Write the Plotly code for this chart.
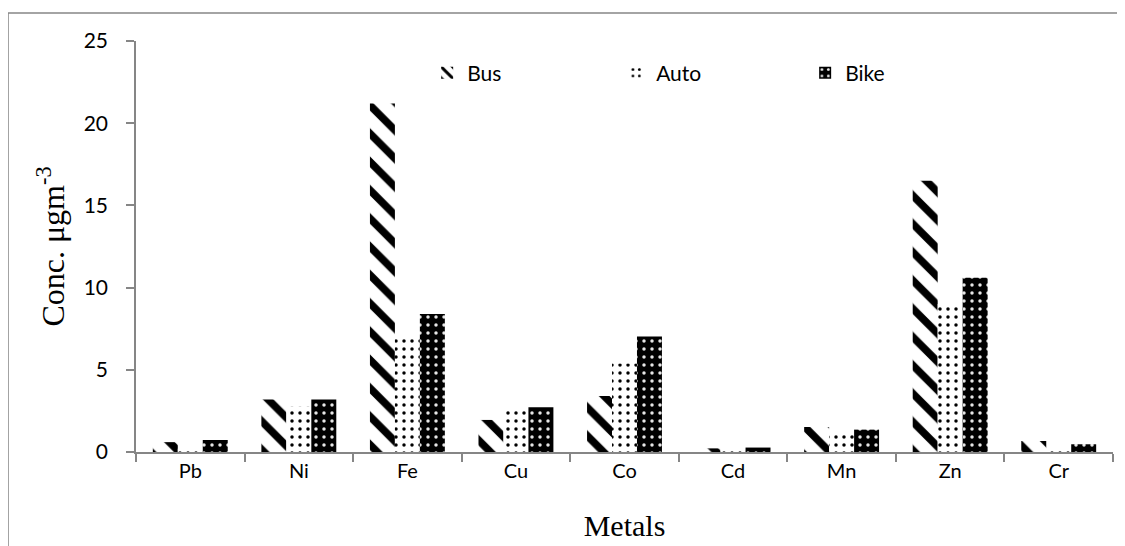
import plotly.graph_objects as go

metals = ["Pb", "Ni", "Fe", "Cu", "Co", "Cd", "Mn", "Zn", "Cr"]
bus = [0.6, 3.2, 21.2, 1.95, 3.4, 0.22, 1.52, 16.5, 0.67]
auto = [0.2, 2.75, 7.0, 2.6, 5.38, 0.15, 1.1, 9.0, 0.15]
bike = [0.73, 3.2, 8.4, 2.72, 7.02, 0.27, 1.36, 10.6, 0.47]
y_ticks = [0, 5, 10, 15, 20, 25]

fig = go.Figure()
fig.add_bar(name="Bus", x=metals, y=bus,
            marker=dict(color="white", line=dict(width=0),
                        pattern=dict(shape="\\", fgcolor="black", bgcolor="white",
                                     size=20, solidity=0.38, fillmode="replace")))
fig.add_bar(name="Auto", x=metals, y=auto,
            marker=dict(color="white", line=dict(width=0),
                        pattern=dict(shape=".", fgcolor="black", bgcolor="white",
                                     size=8, solidity=0.15, fillmode="replace")))
fig.add_bar(name="Bike", x=metals, y=bike,
            marker=dict(color="black", line=dict(width=0),
                        pattern=dict(shape=".", fgcolor="#e6e6e6", bgcolor="black",
                                     size=8, solidity=0.15, fillmode="replace")))

axis_col = "#868686"
serif = "Liberation Serif, Times New Roman, serif"
fig.update_layout(
    width=1117, height=538, autosize=False,
    margin=dict(l=128, r=12, t=33, b=94, autoexpand=False),
    paper_bgcolor="white", plot_bgcolor="white",
    barmode="group", bargap=0.31, bargroupgap=0,
    font=dict(family="Lato, Noto Sans, sans-serif", color="black", size=20),
    showlegend=True,
    legend=dict(orientation="h", x=0.298, y=0.922, xanchor="left", yanchor="middle",
                entrywidth=144, entrywidthmode="pixels", itemwidth=30,
                font=dict(size=21), bgcolor="rgba(0,0,0,0)", traceorder="normal"),
    xaxis=dict(showline=True, linecolor=axis_col, linewidth=1.5,
               ticks="outside", ticklen=8, tickcolor=axis_col, tickwidth=1.5,
               tickson="boundaries", showgrid=False, automargin=False,
               tickfont=dict(size=20),
               title=dict(text="Metals", font=dict(family=serif, size=30), standoff=34)),
    yaxis=dict(range=[0, 25], tickvals=y_ticks, showline=True, linecolor=axis_col, linewidth=1.5,
               ticks="outside", ticklen=8, tickcolor=axis_col, tickwidth=1.5,
               ticklabelstandoff=14,
               showgrid=False, zeroline=False, automargin=False, tickfont=dict(size=21),
               title=dict(text="Conc. μgm<sup>-3</sup>", font=dict(family=serif, size=32),
                          standoff=9)),
)

# outer frame (left and top edges visible in reference)
fig.add_shape(type="line", xref="paper", yref="paper", x0=-0.131, x1=-0.131, y0=-0.3, y1=1.068,
              line=dict(color=axis_col, width=1.5))
fig.add_shape(type="line", xref="paper", yref="paper", x0=-0.131, x1=1.05, y0=1.068, y1=1.068,
              line=dict(color=axis_col, width=1.5))

fig.write_html("out.html")
